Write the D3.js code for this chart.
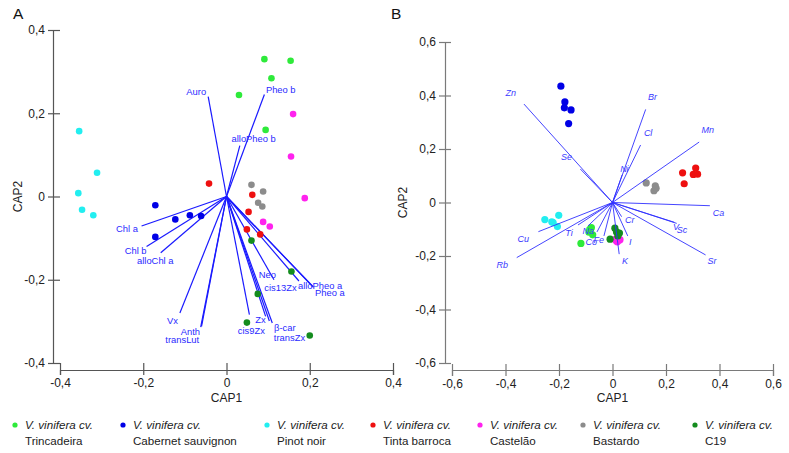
<!DOCTYPE html>
<meta charset="utf-8">
<script src="https://cdn.jsdelivr.net/npm/d3@7"></script>
<style>
	body { margin: 0; background: #fff; }
	text { font-family: "Liberation Sans", Arial, sans-serif; }
</style>
<div id="vis"></div>
<script>
	// cultivars (legend order) and their colours
	const cultivars = ["Trincadeira", "Cabernet sauvignon", "Pinot noir", "Tinta barroca", "Castelão", "Bastardo", "C19"]
	const cultivarColors = ["#2eea3a", "#0000e6", "#22eef0", "#ee1010", "#ff22ee", "#8c8c8c", "#148c1e"]

	// panel A scores: [cultivar index, CAP1, CAP2]
	const scoresA = [
		[0, 0.091, 0.330], [0, 0.154, 0.326], [0, 0.108, 0.284], [0, 0.030, 0.244], [0, 0.094, 0.160],
		[1, -0.171, -0.021], [1, -0.123, -0.055], [1, -0.088, -0.045], [1, -0.171, -0.097], [1, -0.061, -0.047],
		[2, -0.354, 0.157], [2, -0.311, 0.057], [2, -0.356, 0.008], [2, -0.347, -0.032], [2, -0.320, -0.045],
		[3, -0.042, 0.031], [3, 0.062, 0.004], [3, 0.053, -0.037], [3, 0.049, -0.079], [3, 0.081, -0.091],
		[4, 0.160, 0.198], [4, 0.155, 0.096], [4, 0.188, -0.004], [4, 0.088, -0.061], [4, 0.104, -0.072],
		[5, 0.060, 0.028], [5, 0.088, 0.012], [5, 0.076, -0.015], [5, 0.086, -0.024],
		[6, 0.060, -0.106], [6, 0.156, -0.180], [6, 0.075, -0.234], [6, 0.049, -0.303], [6, 0.200, -0.334]
	]

	// panel A vectors (pigments): [name, CAP1, CAP2]
	const vectorsA = [
		["Auro", -0.044, 0.240], ["Pheo b", 0.091, 0.245], ["alloPheo b", 0.032, 0.122],
		["Chl a", -0.204, -0.071], ["Chl b", -0.192, -0.120], ["alloChl a", -0.158, -0.135],
		["Vx", -0.112, -0.280], ["Anth", -0.060, -0.312], ["transLut", -0.062, -0.314],
		["Neo", 0.114, -0.200], ["cis13Zx", 0.174, -0.203], ["alloPheo a", 0.206, -0.215],
		["Pheo a", 0.209, -0.218], ["Zx", 0.094, -0.288], ["cis9Zx", 0.055, -0.284],
		["β-car", 0.110, -0.304], ["transZx", 0.103, -0.299]
	]

	// panel B scores: [cultivar index, CAP1, CAP2]
	const scoresB = [
		[0, -0.079, -0.094], [0, -0.088, -0.111], [0, -0.074, -0.121], [0, -0.118, -0.153], [0, -0.085, -0.100],
		[1, -0.193, 0.435], [1, -0.178, 0.376], [1, -0.180, 0.354], [1, -0.155, 0.346], [1, -0.164, 0.295],
		[2, -0.253, -0.064], [2, -0.227, -0.072], [2, -0.201, -0.048], [2, -0.206, -0.090], [2, -0.222, -0.075],
		[3, 0.311, 0.129], [3, 0.262, 0.111], [3, 0.302, 0.105], [3, 0.318, 0.106], [3, 0.268, 0.070],
		[4, 0.010, -0.138], [4, 0.028, -0.139], [4, 0.018, -0.147], [4, 0.022, -0.142], [4, 0.014, -0.143],
		[5, 0.126, 0.073], [5, 0.160, 0.062], [5, 0.155, 0.044], [5, 0.163, 0.053],
		[6, 0.009, -0.096], [6, 0.015, -0.110], [6, 0.026, -0.114], [6, -0.009, -0.137], [6, 0.020, -0.125]
	]

	// panel B vectors (elements): [name, CAP1, CAP2]
	const vectorsB = [
		["Zn", -0.331, 0.368], ["Se", -0.120, 0.125], ["Br", 0.124, 0.348], ["Cl", 0.105, 0.215],
		["Mn", 0.324, 0.226], ["Ni", 0.036, 0.103], ["Ca", 0.364, -0.012], ["V", 0.231, -0.074],
		["Sc", 0.240, -0.078], ["Sr", 0.348, -0.196], ["Cr", 0.034, -0.053], ["I", 0.057, -0.125],
		["K", 0.025, -0.193], ["Fe", -0.032, -0.125], ["Co", -0.058, -0.110], ["Na", -0.092, -0.088],
		["Ti", -0.129, -0.084], ["Cu", -0.277, -0.109], ["Rb", -0.358, -0.206]
	]

	const ticksA = [-0.4, -0.2, 0, 0.2, 0.4]
	const ticksB = [-0.6, -0.4, -0.2, 0, 0.2, 0.4, 0.6]

	// label placement next to the arrow tips: [anchor, dx, dy]
	const labelPosA = {
		"Auro": ["end", -2, -1.5], "Pheo b": ["start", 1.5, -2], "alloPheo b": ["start", -8.3, -3.4],
		"Chl a": ["end", -3.7, 5.6], "Chl b": ["end", 0, 7.6], "alloChl a": ["start", -23.7, 11.3],
		"Vx": ["end", -2, 10.7], "Anth": ["end", -1.5, 9], "transLut": ["end", -1.5, 16],
		"Neo": ["end", 2, -1.7], "cis13Zx": ["end", -2.3, 9.6], "alloPheo a": ["start", -14.3, 3],
		"Pheo a": ["start", 1.5, 8.8], "Zx": ["end", 0, 6.6], "cis9Zx": ["start", -11.6, 19],
		"β-car": ["start", 1.7, 7.7], "transZx": ["start", 4.5, 19.6]
	}
	const labelPosB = {
		"Zn": ["end", -8, -8], "Se": ["end", -8.3, -9], "Br": ["start", 2.3, -9.3], "Cl": ["start", 3.3, -9],
		"Mn": ["start", 2.4, -9.4], "Ni": ["start", -2, -2.7], "Ca": ["start", 3, 10], "V": ["start", -1.3, 7.7],
		"Sc": ["start", 0, 9.3], "Sr": ["start", 2, 9.3], "Cr": ["start", 3.3, 6.6], "I": ["start", 1.3, 9],
		"K": ["start", 2.7, 10], "Fe": ["end", 0, 7.3], "Co": ["end", 0, 13], "Na": ["start", -5.3, 8],
		"Ti": ["end", -5.3, 10.6], "Cu": ["end", -9.3, 10.6], "Rb": ["end", -8.7, 10]
	}

	const width = 789, height = 453
	const svg = d3.select("#vis").append("svg")
		.attr("width", width)
		.attr("height", height)
		.style("display", "block")

	svg.append("rect").attr("width", width).attr("height", height).attr("fill", "#fff")

	const fmt = d => d === 0 ? "0" : d.toFixed(1).replace(".", ",")

	function drawPanel(opt) {
		const x = d3.scaleLinear().domain(opt.domain).range(opt.xRange)
		const y = d3.scaleLinear().domain(opt.domain).range(opt.yRange)
		const g = svg.append("g")

		// y axis
		const gy = g.append("g")
			.attr("transform", "translate(" + opt.yAxisX + ",0)")
			.call(d3.axisLeft(y).tickValues(opt.ticks).tickFormat(fmt).tickSizeOuter(0).tickSize(opt.tickOut).tickPadding(3))
		gy.selectAll("line").attr("x2", -opt.tickOut).attr("x1", opt.tickIn)
		// x axis
		const gx = g.append("g")
			.attr("transform", "translate(0," + opt.xAxisY + ")")
			.call(d3.axisBottom(x).tickValues(opt.ticks).tickFormat(fmt).tickSizeOuter(0).tickSize(opt.tickOut).tickPadding(3))
		gx.selectAll("line").attr("y2", opt.tickOut).attr("y1", -opt.tickIn)

		g.selectAll(".domain, .tick line").attr("stroke", opt.axisColor).attr("stroke-width", 1.2)
		g.selectAll(".tick text").attr("fill", "#222").style("font-size", "12px")
			.style("font-family", "Liberation Sans, Arial, sans-serif")

		// axis titles
		g.append("text")
			.attr("x", x(0)).attr("y", opt.xAxisY + 32)
			.attr("text-anchor", "middle").attr("fill", "#222").style("font-size", "12px")
			.text("CAP1")
		g.append("text")
			.attr("transform", "translate(" + opt.titleYx + "," + y(0) + ") rotate(-90)")
			.attr("text-anchor", "middle").attr("fill", "#222").style("font-size", "12px")
			.text("CAP2")
		g.append("text")
			.attr("x", opt.letterX).attr("y", 19)
			.attr("fill", "#111").style("font-size", "15.5px")
			.text(opt.letter)

		function drawVectors() {
			g.append("g").selectAll("line").data(opt.vectors).enter()
				.append("line")
				.attr("x1", x(0)).attr("y1", y(0))
				.attr("x2", d => x(d[1])).attr("y2", d => y(d[2]))
				.attr("stroke", opt.vecColor)
				.attr("stroke-width", opt.vecWidth)
		}
		function drawPoints() {
			g.append("g").selectAll("circle").data(opt.scores).enter()
				.append("circle")
				.attr("cx", d => x(d[1])).attr("cy", d => y(d[2]))
				.attr("r", opt.r)
				.attr("fill", d => cultivarColors[d[0]])
		}
		if (opt.pointsOnTop) { drawVectors(); drawPoints() } else { drawPoints(); drawVectors() }

		g.append("g").selectAll("text").data(opt.vectors).enter()
			.append("text")
			.attr("x", d => x(d[1]) + opt.labelPos[d[0]][1])
			.attr("y", d => y(d[2]) + opt.labelPos[d[0]][2])
			.attr("text-anchor", d => opt.labelPos[d[0]][0])
			.attr("fill", opt.labelColor)
			.style("font-size", opt.labelSize)
			.style("font-style", opt.italic ? "italic" : "normal")
			.text(d => d[0])
	}

	drawPanel({
		letter: "A", letterX: 13,
		domain: [-0.4, 0.4], xRange: [60, 393], yRange: [363, 30],
		yAxisX: 53, xAxisY: 370, titleYx: 22, ticks: ticksA, tickOut: 5, tickIn: 7,
		axisColor: "#555", scores: scoresA, vectors: vectorsA, labelPos: labelPosA,
		r: 3.3, vecColor: "#1a1aff", vecWidth: 1.2, labelColor: "#2a2aff", labelSize: "9.4px",
		italic: false, pointsOnTop: true
	})

	drawPanel({
		letter: "B", letterX: 391,
		domain: [-0.6, 0.6], xRange: [452, 773], yRange: [363, 42],
		yAxisX: 445, xAxisY: 370, titleYx: 407, ticks: ticksB, tickOut: 6, tickIn: 6,
		axisColor: "#7a7a7a", scores: scoresB, vectors: vectorsB, labelPos: labelPosB,
		r: 3.6, vecColor: "#3030ff", vecWidth: 0.9, labelColor: "#3a3aff", labelSize: "9px",
		italic: true, pointsOnTop: false
	})

	// legend
	const legendX = [15, 123, 267, 373, 480, 583, 695]
	const legend = svg.append("g").selectAll("g").data(cultivars).enter()
		.append("g")
		.attr("transform", (d, i) => "translate(" + legendX[i] + ",0)")
	legend.append("circle")
		.attr("cx", 0).attr("cy", 425).attr("r", 2.6)
		.attr("fill", (d, i) => cultivarColors[i])
	legend.append("text")
		.attr("x", 10).attr("y", 429)
		.attr("fill", "#222").style("font-size", "11.6px").style("font-style", "italic")
		.text("V. vinifera cv.")
	legend.append("text")
		.attr("x", 10).attr("y", 445)
		.attr("fill", "#222").style("font-size", "11.6px")
		.text(d => d)
</script>
